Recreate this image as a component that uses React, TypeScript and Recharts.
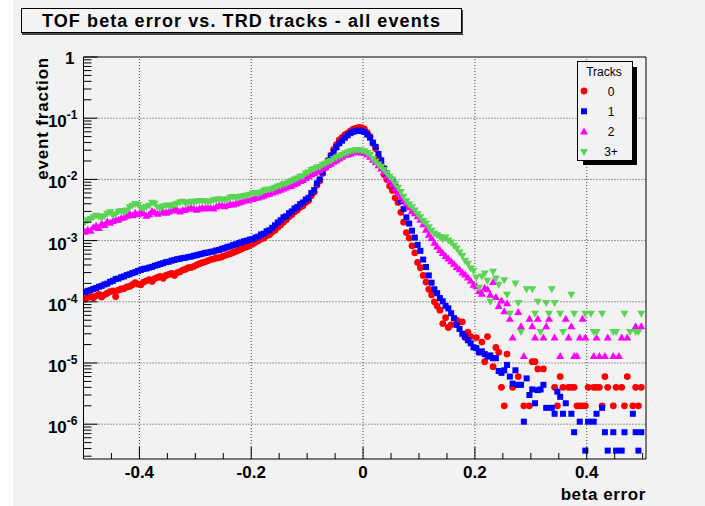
import React from 'react';
import { ScatterChart, Scatter, XAxis, YAxis, ReferenceLine } from 'recharts';

// Histogram binning: 200 bins of width 0.005 over [-0.5, 0.5]
const BIN_LOW = -0.5;
const BIN_WIDTH = 0.005;

// event fraction per bin (null = empty bin, not drawn on a log scale)
const TRACKS_0: (number | null)[] = [
  1.1e-4, 1.18e-4, 1.22e-4, 1.16e-4, 1.25e-4, 1.32e-4, 1.2e-4, 1.3e-4, 1.38e-4, 1.47e-4,
  1.5e-4, 1.22e-4, 1.55e-4, 1.62e-4, 1.65e-4, 1.75e-4, 1.78e-4, 1.9e-4, 2.05e-4, 1.95e-4,
  1.9e-4, 2.1e-4, 2.2e-4, 2.3e-4, 2.15e-4, 2.4e-4, 2.5e-4, 2.6e-4, 2.42e-4, 2.7e-4,
  2.8e-4, 2.9e-4, 2.7e-4, 3.0e-4, 3.1e-4, 3.3e-4, 3.4e-4, 3.6e-4, 3.65e-4, 3.8e-4,
  4.0e-4, 4.2e-4, 4.35e-4, 4.5e-4, 4.7e-4, 4.9e-4, 5.0e-4, 5.2e-4, 5.25e-4, 5.45e-4,
  5.7e-4, 5.9e-4, 6.1e-4, 6.35e-4, 6.65e-4, 6.95e-4, 7.3e-4, 7.7e-4, 7.9e-4, 8.4e-4,
  8.8e-4, 9.4e-4, 9.9e-4, 1.06e-3, 1.1e-3, 1.2e-3, 1.25e-3, 1.38e-3, 1.47e-3, 1.65e-3,
  1.8e-3, 2.0e-3, 2.2e-3, 2.45e-3, 2.65e-3, 2.95e-3, 3.15e-3, 3.5e-3, 3.7e-3, 4.2e-3,
  4.5e-3, 5.4e-3, 6.2e-3, 8.0e-3, 9.5e-3, 1.25e-2, 1.55e-2, 2.05e-2, 2.5e-2, 3.1e-2,
  3.7e-2, 4.4e-2, 4.85e-2, 5.4e-2, 5.7e-2, 6.2e-2, 6.6e-2, 6.9e-2, 7.1e-2, 7.0e-2,
  6.6e-2, 5.8e-2, 5.0e-2, 3.9e-2, 3.2e-2, 2.3e-2, 1.7e-2, 1.2e-2, 1.0e-2, 7.8e-3,
  6.6e-3, 5.0e-3, 4.2e-3, 2.9e-3, 2.0e-3, 1.35e-3, 1.1e-3, 8.2e-4, 6.3e-4, 4.4e-4,
  3.6e-4, 2.7e-4, 2.1e-4, 1.6e-4, 1.3e-4, 1.0e-4, 8.5e-5, 7.3e-5, 4.4e-5, 5.5e-5,
  3.8e-5, 4.2e-5, null, 5.0e-5, 4.7e-5, 4.7e-5, 2.6e-5, 3.2e-5, 2.7e-5, null,
  2.6e-5, 1.5e-5, 2.2e-5, 1.05e-5, 2.7e-5, null, 8.7e-6, 1.8e-5, 1.5e-5, 4.0e-6,
  2.0e-6, 1.4e-5, null, 4.0e-6, null, 6.0e-6, null, 2.0e-6, null, 2.0e-6,
  1.05e-5, 1.05e-5, 8.0e-6, null, 8.0e-6, null, null, null, 4.0e-6, 2.0e-6,
  6.0e-6, 4.0e-6, null, 4.0e-6, 4.0e-6, 4.0e-6, 2.0e-6, 2.0e-6, 2.0e-6, 2.0e-6,
  4.0e-6, null, 4.0e-6, 4.0e-6, 4.0e-6, 2.0e-6, 6.0e-6, 4.0e-6, null, 2.0e-6,
  4.0e-6, null, 4.0e-6, 2.0e-6, 6.0e-6, null, 2.0e-6, 4.0e-6, 2.0e-6, 4.0e-6,
];

const TRACKS_1: (number | null)[] = [
  1.43e-4, 1.51e-4, 1.55e-4, 1.62e-4, 1.68e-4, 1.76e-4, 1.82e-4, 1.92e-4, 1.98e-4, 2.12e-4,
  2.2e-4, 2.35e-4, 2.4e-4, 2.52e-4, 2.6e-4, 2.73e-4, 2.82e-4, 2.95e-4, 3.05e-4, 3.2e-4,
  3.3e-4, 3.45e-4, 3.5e-4, 3.62e-4, 3.72e-4, 3.88e-4, 4.0e-4, 4.15e-4, 4.28e-4, 4.45e-4,
  4.52e-4, 4.7e-4, 4.82e-4, 4.98e-4, 5.05e-4, 5.18e-4, 5.25e-4, 5.4e-4, 5.48e-4, 5.65e-4,
  5.78e-4, 5.95e-4, 6.1e-4, 6.3e-4, 6.38e-4, 6.55e-4, 6.65e-4, 6.9e-4, 7.05e-4, 7.35e-4,
  7.55e-4, 7.9e-4, 8.05e-4, 8.45e-4, 8.7e-4, 9.1e-4, 9.4e-4, 9.8e-4, 1.0e-3, 1.04e-3,
  1.06e-3, 1.12e-3, 1.16e-3, 1.26e-3, 1.3e-3, 1.42e-3, 1.48e-3, 1.62e-3, 1.78e-3, 1.98e-3,
  2.15e-3, 2.4e-3, 2.5e-3, 2.8e-3, 3.0e-3, 3.35e-3, 3.55e-3, 3.95e-3, 4.2e-3, 4.7e-3,
  5.0e-3, 6.0e-3, 6.7e-3, 8.6e-3, 1.0e-2, 1.3e-2, 1.6e-2, 2.0e-2, 2.4e-2, 2.85e-2,
  3.35e-2, 3.9e-2, 4.3e-2, 4.8e-2, 5.25e-2, 5.7e-2, 6.0e-2, 6.2e-2, 6.3e-2, 6.15e-2,
  5.95e-2, 5.4e-2, 4.8e-2, 4.0e-2, 3.4e-2, 2.6e-2, 2.05e-2, 1.5e-2, 1.25e-2, 1.02e-2,
  9.3e-3, 7.6e-3, 6.0e-3, 4.4e-3, 3.3e-3, 2.4e-3, 1.9e-3, 1.45e-3, 1.12e-3, 8.5e-4,
  6.8e-4, 4.9e-4, 3.7e-4, 2.7e-4, 2.05e-4, 1.6e-4, 1.38e-4, 1.15e-4, 1.02e-4, 8.6e-5,
  7.8e-5, 6.5e-5, 5.4e-5, 4.2e-5, 3.6e-5, 3.0e-5, 2.7e-5, 2.35e-5, 2.1e-5, 1.8e-5,
  1.75e-5, 1.5e-5, 1.55e-5, 1.4e-5, 1.27e-5, 1.33e-5, 1.2e-5, 1.2e-5, 7.4e-6, 6.9e-6,
  7.6e-6, 9.3e-6, 6.0e-6, 4.6e-6, 7.6e-6, 4.4e-6, 4.4e-6, 1.1e-6, 5.6e-6, 3.0e-6,
  3.7e-6, 2.2e-6, 3.6e-6, 3.7e-6, 4.4e-6, 1.85e-6, null, 1.85e-6, 1.48e-6, 3.4e-6,
  2.8e-6, 1.48e-6, 2.2e-6, null, 1.48e-6, 7.4e-7, null, 1.1e-6, null, 3.7e-7,
  1.1e-6, null, 1.1e-6, 1.48e-6, null, 1.85e-6, 7.4e-7, 3.7e-7, null, 7.4e-7,
  3.7e-7, null, 3.7e-7, 7.4e-7, null, null, 1.48e-6, 7.4e-7, 3.7e-7, 7.4e-7,
];

const TRACKS_2: (number | null)[] = [
  1.4e-3, 1.5e-3, 1.45e-3, 1.65e-3, 1.75e-3, 1.6e-3, 1.9e-3, 1.8e-3, 2.05e-3, 1.95e-3,
  2.1e-3, 2.2e-3, 2.2e-3, 2.35e-3, 2.4e-3, 2.55e-3, 2.75e-3, 2.6e-3, 2.85e-3, 2.7e-3,
  2.95e-3, 2.8e-3, 2.55e-3, 2.7e-3, 3.05e-3, 2.9e-3, 2.75e-3, 2.9e-3, 2.95e-3, 2.85e-3,
  2.95e-3, 3.1e-3, 3.3e-3, 3.15e-3, 3.0e-3, 3.15e-3, 3.2e-3, 3.35e-3, 3.45e-3, 3.3e-3,
  3.2e-3, 3.35e-3, 3.45e-3, 3.35e-3, 3.55e-3, 3.4e-3, 3.35e-3, 3.6e-3, 3.75e-3, 3.85e-3,
  3.65e-3, 3.8e-3, 3.95e-3, 3.9e-3, 4.05e-3, 4.2e-3, 4.3e-3, 4.5e-3, 4.55e-3, 4.7e-3,
  4.8e-3, 5.0e-3, 5.05e-3, 5.25e-3, 5.4e-3, 5.65e-3, 5.85e-3, 6.1e-3, 6.3e-3, 6.55e-3,
  6.75e-3, 7.1e-3, 7.35e-3, 7.7e-3, 7.9e-3, 8.4e-3, 8.8e-3, 9.4e-3, 9.8e-3, 1.05e-2,
  1.13e-2, 1.21e-2, 1.27e-2, 1.35e-2, 1.42e-2, 1.52e-2, 1.6e-2, 1.72e-2, 1.8e-2, 1.95e-2,
  2.05e-2, 2.2e-2, 2.35e-2, 2.5e-2, 2.55e-2, 2.65e-2, 2.75e-2, 2.8e-2, 2.85e-2, 2.75e-2,
  2.7e-2, 2.55e-2, 2.35e-2, 2.1e-2, 1.9e-2, 1.7e-2, 1.5e-2, 1.32e-2, 1.13e-2, 9.8e-3,
  8.3e-3, 7.2e-3, 6.0e-3, 5.1e-3, 4.6e-3, 4.0e-3, 3.5e-3, 3.05e-3, 2.8e-3, 2.5e-3,
  2.2e-3, 1.85e-3, 1.5e-3, 1.25e-3, 1.1e-3, 9.2e-4, 8.0e-4, 7.0e-4, 6.3e-4, 5.6e-4,
  5.1e-4, 4.6e-4, 4.2e-4, 3.7e-4, 3.4e-4, 3.0e-4, 2.8e-4, 2.5e-4, 2.2e-4, 1.9e-4,
  1.8e-4, 1.5e-4, 1.35e-4, 1.7e-4, 1.6e-4, 1.3e-4, 2.1e-4, 1.2e-4, 8.5e-5, 1.05e-4,
  7.0e-5, 9.5e-5, 5.3e-5, 2.6e-5, null, 6.8e-5, 4.0e-5, 1.3e-5, null, 5.3e-5,
  4.0e-5, 2.6e-5, 5.3e-5, null, 2.6e-5, 4.0e-5, 5.3e-5, null, 2.6e-5, null,
  1.3e-5, null, 5.3e-5, 2.6e-5, 4.0e-5, 1.3e-5, 1.3e-5, 2.6e-5, 5.3e-5, 2.6e-5,
  null, null, 1.3e-5, 2.6e-5, 1.3e-5, null, 1.3e-5, 2.6e-5, null, 1.3e-5,
  null, 1.3e-5, 2.6e-5, null, 2.6e-5, null, null, 4.0e-5, null, 4.0e-5,
];

const TRACKS_3PLUS: (number | null)[] = [
  2.0e-3, 2.15e-3, 2.25e-3, 2.4e-3, 2.55e-3, 2.45e-3, 2.35e-3, 2.5e-3, 2.75e-3, 2.9e-3,
  2.6e-3, 2.7e-3, 2.95e-3, 3.05e-3, 2.85e-3, 3.1e-3, 3.5e-3, 3.7e-3, 3.95e-3, 3.8e-3,
  3.45e-3, 3.35e-3, 3.55e-3, 3.7e-3, 4.15e-3, 4.0e-3, 3.5e-3, 3.35e-3, 3.6e-3, 3.7e-3,
  3.75e-3, 3.65e-3, 3.85e-3, 4.0e-3, 4.2e-3, 4.3e-3, 4.05e-3, 4.15e-3, 4.3e-3, 4.2e-3,
  4.35e-3, 4.45e-3, 4.45e-3, 4.35e-3, 4.2e-3, 4.4e-3, 4.55e-3, 4.65e-3, 4.75e-3, 4.6e-3,
  4.6e-3, 4.75e-3, 5.05e-3, 5.15e-3, 5.0e-3, 5.15e-3, 5.25e-3, 5.35e-3, 5.45e-3, 5.6e-3,
  5.9e-3, 6.0e-3, 5.85e-3, 6.1e-3, 6.5e-3, 6.8e-3, 6.75e-3, 7.0e-3, 7.3e-3, 7.65e-3,
  7.9e-3, 8.3e-3, 8.5e-3, 9.0e-3, 9.4e-3, 1.0e-2, 1.03e-2, 1.1e-2, 1.13e-2, 1.25e-2,
  1.31e-2, 1.42e-2, 1.48e-2, 1.56e-2, 1.6e-2, 1.72e-2, 1.8e-2, 1.95e-2, 2.0e-2, 2.15e-2,
  2.25e-2, 2.4e-2, 2.5e-2, 2.65e-2, 2.75e-2, 2.88e-2, 2.95e-2, 3.0e-2, 3.0e-2, 2.95e-2,
  2.88e-2, 2.7e-2, 2.5e-2, 2.15e-2, 1.95e-2, 1.75e-2, 1.6e-2, 1.42e-2, 1.25e-2, 1.1e-2,
  1.0e-2, 8.5e-3, 7.3e-3, 6.2e-3, 5.2e-3, 4.4e-3, 3.9e-3, 3.5e-3, 3.1e-3, 2.7e-3,
  2.4e-3, 2.1e-3, 1.9e-3, 1.65e-3, 1.45e-3, 1.3e-3, 1.22e-3, 1.15e-3, 1.05e-3, 1.12e-3,
  1.0e-3, 9.3e-4, 8.2e-4, 7.4e-4, 6.4e-4, 5.6e-4, 4.7e-4, 4.2e-4, 3.5e-4, 3.2e-4,
  2.5e-4, 1.7e-4, 2.6e-4, 2.9e-4, 2.2e-4, 1.0e-4, 3.1e-4, 2.4e-4, 1.9e-4, null,
  2.25e-4, 1.3e-4, 6.4e-5, null, 2.0e-4, 9.6e-5, 3.2e-5, null, 1.6e-4, null,
  1.6e-4, 6.4e-5, 1.0e-4, 3.2e-5, null, 9.6e-5, 6.4e-5, 1.6e-4, 9.6e-5, null,
  6.4e-5, 3.2e-5, null, null, 1.3e-4, 6.4e-5, null, null, null, 6.4e-5,
  null, 6.4e-5, 3.2e-5, 3.2e-5, null, 6.4e-5, null, null, null, 3.2e-5,
  3.2e-5, null, null, 6.4e-5, null, 3.2e-5, null, 3.2e-5, 3.2e-5, 6.4e-5,
];

const SERIES_LABELS = ['0', '1', '2', '3+'];
const SERIES_COLORS = ['#ff0000', '#0000ff', '#ff00ff', '#59d454'];

const X_DOMAIN: [number, number] = [-0.5, 0.506];
const Y_DOMAIN: [number, number] = [2.7e-7, 1];
const X_TICKS = [-0.45, -0.4, -0.35, -0.3, -0.25, -0.2, -0.15, -0.1, -0.05, 0, 0.05, 0.1, 0.15, 0.2, 0.25, 0.3, 0.35, 0.4, 0.45, 0.5];
const X_LABELED = [-0.4, -0.2, 0, 0.2, 0.4];
const Y_DECADES = [-7, -6, -5, -4, -3, -2, -1, 0];
const Y_MINOR_MULT = [2, 3, 4, 5, 6, 7, 8, 9];

const Y_TICKS: number[] = [];
Y_DECADES.forEach((e) => {
  const base = Math.pow(10, e);
  if (base >= Y_DOMAIN[0] && base <= Y_DOMAIN[1]) Y_TICKS.push(base);
  if (e < 0) {
    Y_MINOR_MULT.forEach((m) => {
      const v = m * base;
      if (v >= Y_DOMAIN[0] && v <= Y_DOMAIN[1]) Y_TICKS.push(v);
    });
  }
});
const Y_GRID = Y_DECADES.filter((e) => e < 0 && Math.pow(10, e) > Y_DOMAIN[0]).map((e) => Math.pow(10, e));

const toPoints = (vals: (number | null)[]) =>
  vals
    .map((v, i) => (v == null ? null : { x: +(BIN_LOW + BIN_WIDTH * (i + 0.5)).toFixed(5), y: v }))
    .filter((p) => p !== null) as { x: number; y: number }[];

const DATA = [TRACKS_0, TRACKS_1, TRACKS_2, TRACKS_3PLUS].map(toPoints);

const FONT = '"Liberation Sans", Arial, Helvetica, sans-serif';

const Circle = (p: any) => <circle cx={p.cx} cy={p.cy} r={3.4} fill={SERIES_COLORS[0]} />;
const Square = (p: any) => <rect x={p.cx - 3} y={p.cy - 3} width={6} height={6} fill={SERIES_COLORS[1]} />;
const TriUp = (p: any) => (
  <polygon points={`${p.cx},${p.cy - 4} ${p.cx - 4},${p.cy + 3} ${p.cx + 4},${p.cy + 3}`} fill={SERIES_COLORS[2]} />
);
const TriDown = (p: any) => (
  <polygon points={`${p.cx - 4},${p.cy - 3} ${p.cx + 4},${p.cy - 3} ${p.cx},${p.cy + 4}`} fill={SERIES_COLORS[3]} />
);
const SHAPES = [Circle, Square, TriUp, TriDown];

const XTick = (props: any) => {
  const { x, y, payload } = props;
  const v = payload.value;
  const major = X_LABELED.some((t) => Math.abs(t - v) < 1e-9);
  const len = major ? 12 : 6;
  const label = v === 0 ? '0' : String(v);
  return (
    <g>
      <line x1={x} y1={y} x2={x} y2={y - len} stroke="#000" strokeWidth={1} />
      {major && (
        <text x={x} y={y + 19} textAnchor="middle" fontFamily={FONT} fontWeight="bold" fontSize={17} fill="#000">
          {label}
        </text>
      )}
    </g>
  );
};

const YTick = (props: any) => {
  const { x, y, payload } = props;
  const v = payload.value;
  const lg = Math.log10(v);
  const e = Math.round(lg);
  const major = Math.abs(lg - e) < 1e-6;
  const len = major ? 14 : 8;
  return (
    <g>
      <line x1={x} y1={y} x2={x + len} y2={y} stroke="#000" strokeWidth={1} />
      {major &&
        (e === 0 ? (
          <text x={x - 9} y={y + 7} textAnchor="end" fontFamily={FONT} fontWeight="bold" fontSize={17} fill="#000">
            1
          </text>
        ) : (
          <text x={x - 6} y={y + 9} textAnchor="end" fontFamily={FONT} fontWeight="bold" fontSize={17} fill="#000">
            10
            <tspan dy={-8} fontSize={12}>
              {String(e)}
            </tspan>
          </text>
        ))}
    </g>
  );
};

export default function App() {
  return (
    <div style={{ position: 'absolute', left: 0, top: 0, width: 705, height: 506, background: '#ffffff', overflow: 'hidden' }}>
      <div style={{ position: 'absolute', left: 13, top: 0, width: 692, height: 506, background: '#f2f2f2' }} />
      <div style={{ position: 'absolute', left: 0, top: 0 }}>
        <ScatterChart width={705} height={506} margin={{ top: 57, right: 59, bottom: 17, left: 23.5 }}>
          <XAxis
            type="number"
            dataKey="x"
            domain={X_DOMAIN}
            allowDataOverflow
            ticks={X_TICKS}
            interval={0}
            tick={<XTick />}
            tickLine={false}
            tickSize={0}
            tickMargin={0}
            axisLine={{ stroke: '#000' }}
            height={30}
          />
          <YAxis
            type="number"
            dataKey="y"
            scale="log"
            domain={Y_DOMAIN}
            allowDataOverflow
            ticks={Y_TICKS}
            interval={0}
            tick={<YTick />}
            tickLine={false}
            tickSize={0}
            tickMargin={0}
            axisLine={{ stroke: '#000' }}
            width={60}
          />
          {X_LABELED.map((v) => (
            <ReferenceLine key={'gx' + v} x={v} stroke="#444" strokeDasharray="1 2" ifOverflow="visible" />
          ))}
          {Y_GRID.map((v) => (
            <ReferenceLine key={'gy' + v} y={v} stroke="#444" strokeDasharray="1 2" ifOverflow="visible" />
          ))}
          <ReferenceLine y={Y_DOMAIN[1]} stroke="#000" ifOverflow="visible" />
          <ReferenceLine x={X_DOMAIN[1]} stroke="#000" ifOverflow="visible" />
          {DATA.map((d, k) => (
            <Scatter key={k} data={d} dataKey="y" fill={SERIES_COLORS[k]} shape={SHAPES[k]} isAnimationActive={false} />
          ))}
        </ScatterChart>
      </div>
      {/* title box */}
      <div
        style={{
          position: 'absolute',
          left: 21,
          top: 8,
          width: 439,
          height: 23,
          border: '1px solid #000',
          boxShadow: '1px 2px 0 #444',
          background: '#f4f4f4',
          fontFamily: FONT,
          fontWeight: 'bold',
          fontSize: 18,
          letterSpacing: 1.1,
          lineHeight: '24px',
          textAlign: 'center',
          color: '#000',
        }}
      >
        TOF beta error vs. TRD tracks - all events
      </div>
      {/* axis titles and legend */}
      <svg style={{ position: 'absolute', left: 0, top: 0 }} width={705} height={506}>
        <text
          x={48}
          y={57}
          transform="rotate(-90 48 57)"
          textAnchor="end"
          fontFamily={FONT}
          fontWeight="bold"
          fontSize={17}
          letterSpacing={0.8}
          fill="#000"
        >
          event fraction
        </text>
        <text x={646} y={500} textAnchor="end" fontFamily={FONT} fontWeight="bold" fontSize={17} letterSpacing={0.6} fill="#000">
          beta error
        </text>
        <rect x={583} y={67} width={54} height={98} fill="#000" />
        <rect x={577.5} y={61.5} width={55} height={99} fill="#f2f2f2" stroke="#000" strokeWidth={1} />
        <text x={604} y={76} textAnchor="middle" fontFamily={FONT} fontSize={12} fill="#000">
          Tracks
        </text>
        {SERIES_LABELS.map((lab, k) => {
          const cy = 91 + k * 20.3;
          const Shape = SHAPES[k];
          return (
            <g key={lab}>
              <Shape cx={584} cy={cy} />
              <text x={611} y={cy + 4.5} textAnchor="middle" fontFamily={FONT} fontSize={12} fill="#000">
                {lab}
              </text>
            </g>
          );
        })}
      </svg>
    </div>
  );
}
